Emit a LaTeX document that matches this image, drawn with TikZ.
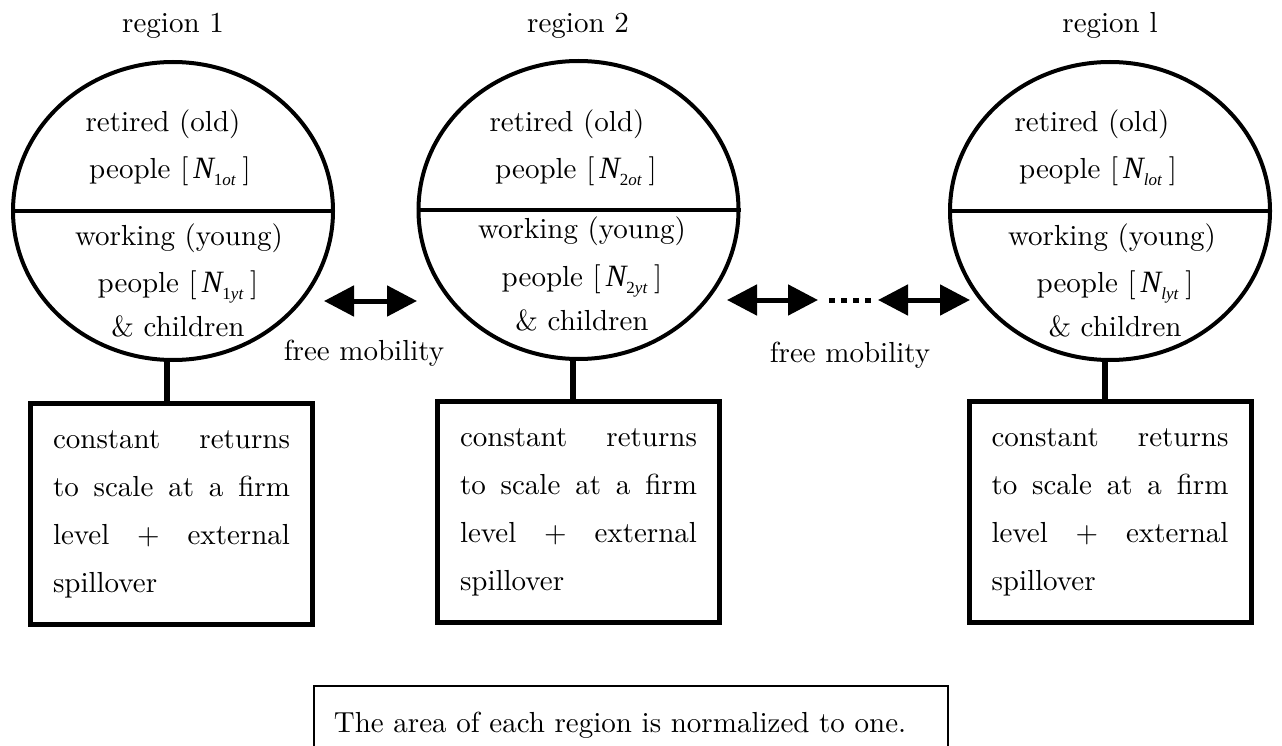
\documentclass[tikz,border=0pt]{standalone}
\usepackage{fontspec}
\setmainfont{lmroman10-regular}[Extension=.otf]
\newfontfamily\nfont{Liberation Serif}
\usetikzlibrary{shapes.geometric,arrows.meta}
\newcommand{\Nsub}[2]{\hspace{5pt}{\nfont\itshape\fontsize{31}{31}\selectfont N}\raisebox{-7pt}{\nfont\fontsize{17}{17}\selectfont #1{\itshape #2}}\hspace{7pt}}
\tikzset{
 txt/.style={font=\fontsize{29}{34}\selectfont, inner sep=0pt, anchor=base},
 region/.style={ellipse, draw, line width=4pt, minimum width=320pt, minimum height=298pt, inner sep=0pt},
 divider/.style={line width=4pt},
 stem/.style={line width=6pt},
 firmbox/.style={draw, line width=5pt, minimum width=282pt, minimum height=221pt, text width=237pt, inner xsep=22.5pt, inner ysep=0pt, align=left, font=\fontsize{29}{48}\selectfont},
 mob/.style={line width=5pt, {Triangle[length=30pt,width=30pt]}-{Triangle[length=30pt,width=30pt]}},
 dots/.style={line width=5pt, dash pattern=on 6pt off 6pt},
 notebox/.style={draw, line width=1.7pt, anchor=north west, minimum width=634pt, text width=594pt, inner xsep=20pt, inner ysep=25.8pt, align=left, font=\fontsize{29}{34}\selectfont},
}
\begin{document}
\begin{tikzpicture}[x=1pt,y=-1pt]
\useasboundingbox (0,0) rectangle (1282,746);
\fill[white] (0,0) rectangle (1282,746);
\clip (0,0) rectangle (1282,746);

% region labels
\node[txt] (r1) at (173,33) {region 1};
\node[txt] (r2) at (578,33) {region 2};
\node[txt] (r3) at (1110,33) {region l};

% ellipses
\node[region] (c1) at (173,211) {};
\node[region] (c2) at (578.5,210) {};
\node[region] (c3) at (1110,211) {};
\draw[divider] (c1.west) -- (c1.east);
\draw[divider] (c2.west) -- (c2.east);
\draw[divider] (c3.west) -- (c3.east);

% texts region 1
\node[txt] (t1a) at (163,132) {retired (old)};
\node[txt] (t1b) at (170,179) {people [\Nsub{1}{ot}]};
\node[txt] (t1c) at (179,245) {working (young)};
\node[txt] (t1d) at (178,292) {people [\Nsub{1}{yt}]};
\node[txt] (t1e) at (178,336) {\& children};
% texts region 2
\node[txt] (t2a) at (567,132) {retired (old)};
\node[txt] (t2b) at (576,179) {people [\Nsub{2}{ot}]};
\node[txt] (t2c) at (582,239) {working (young)};
\node[txt] (t2d) at (582,286) {people [\Nsub{2}{yt}]};
\node[txt] (t2e) at (582,330) {\& children};
% texts region l
\node[txt] (t3a) at (1092,132) {retired (old)};
\node[txt] (t3b) at (1098,179) {people [\Nsub{}{lot}]};
\node[txt] (t3c) at (1112,245) {working (young)};
\node[txt] (t3d) at (1115,292) {people [\Nsub{}{lyt}]};
\node[txt] (t3e) at (1115,336) {\& children};

% firm boxes
\node[firmbox] (b1) at (171.5,514) {constant\hfill returns\\ to\hfill scale\hfill at\hfill a\hfill firm\\ level\hfill +\hfill external\\ spillover};
\node[firmbox] (b2) at (578.5,512) {constant\hfill returns\\ to\hfill scale\hfill at\hfill a\hfill firm\\ level\hfill +\hfill external\\ spillover};
\node[firmbox] (b3) at (1110,512) {constant\hfill returns\\ to\hfill scale\hfill at\hfill a\hfill firm\\ level\hfill +\hfill external\\ spillover};

% stems
\draw[stem] ([xshift=-6pt]c1.south) -- ([xshift=-6pt]c1.south |- b1.north);
\draw[stem] ([xshift=-5.5pt]c2.south) -- ([xshift=-5.5pt]c2.south |- b2.north);
\draw[stem] ([xshift=-5pt]c3.south) -- ([xshift=-5pt]c3.south |- b3.north);

% mobility arrows
\coordinate (m1a) at (324,301);
\coordinate (m1b) at (417,301);
\coordinate (m2a) at (727,300);
\coordinate (m2b) at (818,300);
\coordinate (d2a) at (829,300);
\coordinate (d2b) at (871,300);
\coordinate (m3a) at (878,300);
\coordinate (m3b) at (970,300);
\draw[mob] (m1a) -- (m1b);
\draw[mob] (m2a) -- (m2b);
\draw[dots] (d2a) -- (d2b);
\draw[mob] (m3a) -- (m3b);
\node[txt] (f1) at (364,360) {free mobility};
\node[txt] (f2) at (850,362) {free mobility};

% note
\node[notebox] (note) at (313,685) {The area of each region is normalized to one.};
\end{tikzpicture}
\end{document}
